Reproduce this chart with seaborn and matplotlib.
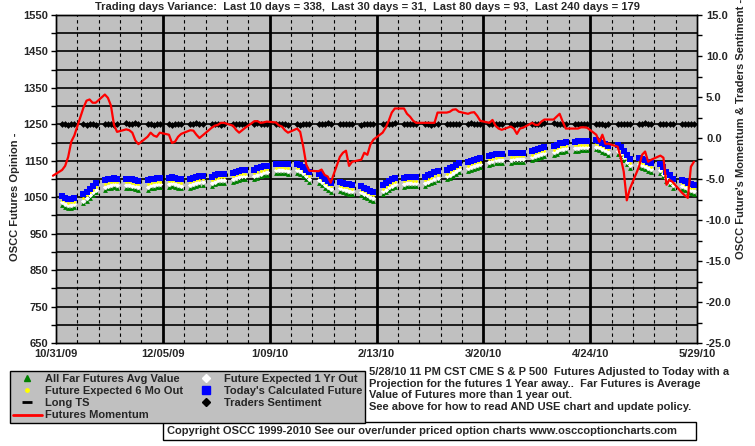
import matplotlib
matplotlib.use("Agg")
import matplotlib.pyplot as plt
from matplotlib.lines import Line2D
from matplotlib.patches import Rectangle
import seaborn as sns
import pandas as pd
import numpy as np

# one row per trading week (Mon..Fri), first value is Fri 10/30/09, last is 5/28/10
today_future = [
    1056,
    1053, 1049, 1045, 1046, 1048,
    1058, 1065, 1073, 1081, 1088,
    1096, 1099, 1101, 1102, 1101,
    1101, 1101, 1099, 1097, 1095,
    1096, 1100, 1101, 1102, 1102,
    1104, 1105, 1104, 1101, 1099,
    1101, 1104, 1106, 1108, 1109,
    1106, 1110, 1113, 1115, 1115,
    1117, 1120, 1123, 1125, 1125,
    1126, 1129, 1132, 1135, 1137,
    1141, 1142, 1142, 1141, 1140,
    1141, 1139, 1133, 1125, 1118,
    1115, 1108, 1100, 1094, 1090,
    1091, 1089, 1087, 1085, 1083,
    1080, 1076, 1072, 1068, 1065,
    1083, 1088, 1094, 1099, 1103,
    1104, 1106, 1106, 1105, 1105,
    1106, 1110, 1114, 1118, 1121,
    1124, 1129, 1134, 1139, 1144,
    1146, 1150, 1153, 1156, 1158,
    1164, 1166, 1168, 1169, 1169,
    1170, 1171, 1172, 1172, 1172,
    1176, 1180, 1183, 1186, 1188,
    1190, 1194, 1198, 1200, 1201,
    1202, 1203, 1204, 1204, 1204,
    1206, 1204, 1200, 1196, 1191,
    1194, 1188, 1177, 1165, 1155,
    1158, 1155, 1152, 1148, 1144,
    1142, 1132, 1120, 1110, 1100,
    1098, 1094, 1090, 1086, 1084,
]

six_mo = [
    1046,
    1043, 1039, 1035, 1036, 1038,
    1048, 1055, 1063, 1071, 1078,
    1086, 1089, 1091, 1092, 1091,
    1091, 1091, 1089, 1087, 1085,
    1086, 1090, 1091, 1092, 1092,
    1094, 1095, 1094, 1091, 1089,
    1091, 1094, 1096, 1098, 1099,
    1096, 1100, 1103, 1105, 1105,
    1107, 1110, 1113, 1115, 1115,
    1116, 1119, 1122, 1125, 1127,
    1131, 1132, 1132, 1131, 1130,
    1131, 1129, 1123, 1115, 1108,
    1105, 1098, 1090, 1084, 1080,
    1081, 1079, 1077, 1075, 1073,
    1070, 1066, 1062, 1058, 1055,
    1073, 1078, 1084, 1089, 1093,
    1094, 1096, 1096, 1095, 1095,
    1096, 1100, 1104, 1108, 1111,
    1114, 1119, 1124, 1129, 1134,
    1136, 1140, 1143, 1146, 1148,
    1154, 1156, 1158, 1159, 1159,
    1160, 1161, 1162, 1162, 1162,
    1166, 1170, 1173, 1176, 1178,
    1180, 1184, 1188, 1190, 1191,
    1192, 1193, 1194, 1194, 1194,
    1196, 1194, 1190, 1186, 1181,
    1184, 1178, 1167, 1155, 1145,
    1148, 1145, 1142, 1138, 1134,
    1132, 1122, 1110, 1100, 1090,
    1088, 1084, 1080, 1076, 1074,
]

one_yr = [
    1039,
    1036, 1032, 1028, 1029, 1031,
    1041, 1048, 1056, 1064, 1071,
    1079, 1082, 1084, 1085, 1084,
    1084, 1084, 1082, 1080, 1078,
    1079, 1083, 1084, 1085, 1085,
    1087, 1088, 1087, 1084, 1082,
    1084, 1087, 1089, 1091, 1092,
    1089, 1093, 1096, 1098, 1098,
    1100, 1103, 1106, 1108, 1108,
    1109, 1112, 1115, 1118, 1120,
    1124, 1125, 1125, 1124, 1123,
    1124, 1122, 1116, 1108, 1101,
    1098, 1091, 1083, 1077, 1073,
    1074, 1072, 1070, 1068, 1066,
    1063, 1059, 1055, 1051, 1048,
    1066, 1071, 1077, 1082, 1086,
    1087, 1089, 1089, 1088, 1088,
    1089, 1093, 1097, 1101, 1104,
    1107, 1112, 1117, 1122, 1127,
    1129, 1133, 1136, 1139, 1141,
    1147, 1149, 1151, 1152, 1152,
    1153, 1154, 1155, 1155, 1155,
    1159, 1163, 1166, 1169, 1171,
    1173, 1177, 1181, 1183, 1184,
    1185, 1186, 1187, 1187, 1187,
    1189, 1187, 1183, 1179, 1174,
    1177, 1171, 1160, 1148, 1138,
    1141, 1138, 1135, 1131, 1127,
    1125, 1115, 1103, 1093, 1083,
    1081, 1077, 1073, 1069, 1067,
]

far_avg = [
    1031,
    1028, 1024, 1020, 1021, 1023,
    1033, 1040, 1048, 1056, 1063,
    1071, 1074, 1076, 1077, 1076,
    1076, 1076, 1074, 1072, 1070,
    1071, 1075, 1076, 1077, 1077,
    1079, 1080, 1079, 1076, 1074,
    1076, 1079, 1081, 1083, 1084,
    1081, 1085, 1088, 1090, 1090,
    1092, 1095, 1098, 1100, 1100,
    1101, 1104, 1107, 1110, 1112,
    1116, 1117, 1117, 1116, 1115,
    1116, 1114, 1108, 1100, 1093,
    1090, 1083, 1075, 1069, 1065,
    1066, 1064, 1062, 1060, 1058,
    1055, 1051, 1047, 1043, 1040,
    1058, 1063, 1069, 1074, 1078,
    1079, 1081, 1081, 1080, 1080,
    1081, 1085, 1089, 1093, 1096,
    1099, 1104, 1109, 1114, 1119,
    1121, 1125, 1128, 1131, 1133,
    1139, 1141, 1143, 1144, 1144,
    1145, 1146, 1147, 1147, 1147,
    1151, 1155, 1158, 1161, 1163,
    1165, 1169, 1173, 1175, 1176,
    1177, 1178, 1179, 1179, 1179,
    1181, 1179, 1175, 1171, 1166,
    1169, 1163, 1152, 1140, 1130,
    1133, 1130, 1127, 1123, 1119,
    1117, 1107, 1095, 1085, 1075,
    1073, 1069, 1065, 1061, 1059,
]

momentum = [
    -4.6,
    -3.9, -3.4, -2.3, -0.45, 0.3,
    3.7, 4.55, 4.7, 4.3, 4.3,
    5.3, 4.9, 3.95, 1.6, 0.75,
    1.05, 0.95, 0.65, -0.3, -0.75,
    0.15, 0.65, 0.3, 0.15, 0.65,
    0.4, -0.6, -0.45, 0.15, 0.5,
    0.95, 0.9, 0.4, 0.0, 0.3,
    1.25, 1.5, 1.6, 1.85, 1.85,
    1.5, 1.0, 0.65, 0.95, 1.25,
    2.05, 2.05, 1.85, 1.9, 2.0,
    1.9, 1.55, 1.4, 0.95, 0.65,
    1.15, 0.75, -1.05, -3.25, -4.0,
    -4.05, -3.85, -4.5, -4.7, -5.45,
    -2.3, -1.8, -1.55, -3.4, -2.9,
    -2.65, -1.8, -2.05, -0.8, -0.2,
    0.65, 1.25, 2.1, 3.1, 3.6,
    3.6, 2.95, 2.6, 2.1, 1.85,
    1.85, 1.85, 1.85, 1.85, 3.1,
    3.1, 3.2, 3.45, 3.5, 3.2,
    2.95, 3.1, 3.15, 2.7, 2.1,
    1.85, 2.2, 1.5, 1.15, 1.0,
    1.4, 1.15, 0.5, 1.15, 1.25,
    1.85, 1.6, 1.6, 2.0, 2.25,
    2.25, 2.6, 2.95, 2.0, 1.15,
    1.15, 1.15, 1.3, 1.3, 1.25,
    0.4, -0.45, 0.4, -0.7, -0.7,
    -1.05, -2.4, -4.1, -7.6, -6.2,
    -3.5, -2.05, -1.65, -2.9, -2.65,
    -2.15, -2.4, -5.7, -5.1, -5.35,
    -6.65, -7.0, -7.3, -3.5, -2.9,
]

sentiment = [
    1.7,
    1.7, 1.7, 1.6, 1.7, 1.7,
    1.7, 1.6, 1.7, 1.7, 1.6,
    1.7, 1.7, 1.7, 1.6, 1.7,
    1.8, 1.7, 1.7, 1.8, 1.7,
    1.7, 1.7, 1.6, 1.7, 1.7,
    1.7, 1.6, 1.7, 1.7, 1.7,
    1.7, 1.7, 1.8, 1.7, 1.7,
    1.7, 1.7, 1.7, 1.6, 1.7,
    1.7, 1.7, 1.7, 1.7, 1.7,
    1.7, 1.8, 1.7, 1.7, 1.7,
    1.7, 1.7, 1.7, 1.7, 1.6,
    1.7, 1.6, 1.7, 1.7, 1.7,
    1.7, 1.7, 1.7, 1.8, 1.7,
    1.7, 1.7, 1.7, 1.7, 1.7,
    1.6, 1.7, 1.7, 1.7, 1.7,
    1.7, 1.7, 1.7, 1.7, 1.8,
    1.7, 1.7, 1.7, 1.7, 1.7,
    1.7, 1.7, 1.6, 1.7, 1.7,
    1.7, 1.7, 1.7, 1.7, 1.7,
    1.7, 1.8, 1.7, 1.7, 1.7,
    1.7, 1.7, 1.7, 1.7, 1.7,
    1.7, 1.6, 1.7, 1.7, 1.7,
    1.7, 1.7, 1.7, 1.7, 1.8,
    1.8, 1.7, 1.7, 1.7, 1.7,
    1.7, 1.7, 1.7, 1.7, 1.7,
    1.7, 1.7, 1.7, 1.6, 1.7,
    1.7, 1.7, 1.7, 1.7, 1.7,
    1.7, 1.7, 1.8, 1.7, 1.7,
    1.7, 1.7, 1.7, 1.7, 1.7,
    1.7, 1.7, 1.7, 1.7, 1.7,
]

x_tick_dates = ["2009-10-31", "2009-12-05", "2010-01-09", "2010-02-13",
                "2010-03-20", "2010-04-24", "2010-05-29"]
x_tick_labels = ["10/31/09", "12/05/09", "1/09/10", "2/13/10",
                 "3/20/10", "4/24/10", "5/29/10"]

title = ("Trading days Variance:  Last 10 days = 338,  Last 30 days = 31,  "
         "Last 80 days = 93,  Last 240 days = 179")
note = ("5/28/10 11 PM CST CME S & P 500  Futures Adjusted to Today with a\n"
        "Projection for the futures 1 Year away..  Far Futures is Average\n"
        "Value of Futures more than 1 year out.\n"
        "See above for how to read AND USE chart and update policy.")
copyright_txt = ("Copyright OSCC 1999-2010 See our over/under priced option "
                 "charts www.osccoptioncharts.com")

days = pd.bdate_range("2009-10-30", "2010-05-28")
df = pd.DataFrame({
    "date": days,
    "today": today_future,
    "six_mo": six_mo,
    "one_yr": one_yr,
    "far": far_avg,
    "momentum": momentum,
    "sentiment": sentiment,
})

sns.set_theme(style="white")
plt.rcParams["font.family"] = ["Liberation Sans", "DejaVu Sans"]
plt.rcParams["font.weight"] = "bold"

W, H = 755, 446
fig = plt.figure(figsize=(W / 100, H / 100), dpi=100)
ax = fig.add_axes([56 / W, 1 - 343 / H, 641 / W, 328 / H])
ax.set_facecolor("#c0c0c0")

start = pd.Timestamp("2009-10-31")
end = pd.Timestamp("2010-05-29")
ax.set_xlim(start, end)
ax.set_ylim(650, 1550)

# grid: horizontal every 50, weekly dashed verticals, 5-week solid verticals
for v in np.arange(700, 1550, 50):
    ax.axhline(v, color="black", lw=1.2, zorder=1)
for d in pd.date_range(start + pd.Timedelta(days=7), end - pd.Timedelta(days=1), freq="7D"):
    if (d - start).days % 35 == 0:
        ax.axvline(d, color="black", lw=2.0, zorder=1)
    else:
        ax.axvline(d, color="black", lw=0.8, ls=(0, (3, 3)), zorder=1)

sns.scatterplot(data=df, x="date", y="far", ax=ax, marker="^", s=12,
                color="#008000", linewidth=0, zorder=3)
sns.scatterplot(data=df, x="date", y="one_yr", ax=ax, marker="D", s=7,
                color="white", linewidth=0, zorder=4)
sns.scatterplot(data=df, x="date", y="six_mo", ax=ax, marker="o", s=4,
                color="#ffff00", linewidth=0, zorder=5)
sns.scatterplot(data=df, x="date", y="today", ax=ax, marker="s", s=18,
                color="#0000ff", linewidth=0, zorder=6)

ax2 = ax.twinx()
ax2.set_ylim(-25, 15)
sns.scatterplot(data=df, x="date", y="sentiment", ax=ax2, marker="D", s=12,
                color="black", linewidth=0, zorder=3)
sns.lineplot(data=df, x="date", y="momentum", ax=ax2, color="#ff0000",
             lw=1.6, zorder=4, clip_on=False)

tick_kw = dict(labelsize=8, length=3.5, width=1, color="black", direction="out")
ax.set_yticks(np.arange(650, 1551, 100))
ax.set_yticks(np.arange(700, 1551, 100), minor=True)
ax.set_yticklabels([str(v) for v in np.arange(650, 1551, 100)], fontweight="bold")
ax.tick_params(axis="y", which="both", left=True, pad=2, **tick_kw)
ax.set_xticks(pd.to_datetime(x_tick_dates))
ax.set_xticklabels(x_tick_labels, fontweight="bold")
ax.tick_params(axis="x", labelsize=8, length=0, pad=4)

ax2.set_yticks(np.arange(-25, 15.1, 5))
ax2.set_yticks(np.arange(-22.5, 15, 5), minor=True)
ax2.set_yticklabels([f"{v:.1f}" for v in np.arange(-25, 15.1, 5)], fontweight="bold")
ax2.tick_params(axis="y", which="both", right=True, pad=3, **tick_kw)

for a in (ax, ax2):
    a.set_xlabel("")
    a.set_ylabel("")
    for sp in a.spines.values():
        sp.set_color("black")
        sp.set_linewidth(1)

fig.text(367 / W, 1 - 7 / H, title, ha="center", va="center", fontsize=8,
         fontweight="bold")
fig.text(15 / W, 1 - 197 / H, "OSCC Futures Opinion -", rotation=90,
         ha="center", va="center", fontsize=8, fontweight="bold")
fig.text(741 / W, 1 - 129 / H, "OSCC Future's Momentum & Traders Sentiment -",
         rotation=90, ha="center", va="center", fontsize=8, fontweight="bold")

handles = [
    Line2D([], [], ls="none", marker="^", color="#008000", markersize=5),
    Line2D([], [], ls="none", marker="o", color="#ffff00", markersize=2.5),
    Line2D([], [], ls="none", marker="_", color="black", markersize=7, mew=2),
    Line2D([], [], color="#ff0000", lw=2),
    Line2D([], [], ls="none", marker="D", color="white", markersize=4.5),
    Line2D([], [], ls="none", marker="s", color="#0000ff", markersize=5.5),
    Line2D([], [], ls="none", marker="D", color="black", markersize=4.5),
]
labels = ["All Far Futures Avg Value", "Future Expected 6 Mo Out", "Long TS",
          "Futures Momentum", "Future Expected 1 Yr Out",
          "Today's Calculated Future", "Traders Sentiment"]
leg = fig.legend(handles, labels, ncol=2, loc="upper left",
                 bbox_to_anchor=(10 / W, 1 - 371 / H), borderaxespad=0,
                 prop={"size": 8, "weight": "bold"}, frameon=True,
                 fancybox=False, framealpha=1, facecolor="#c0c0c0",
                 edgecolor="black", handlelength=2.6, handletextpad=0.3,
                 labelspacing=0.2, columnspacing=0.8, borderpad=0.25)
leg.get_frame().set_linewidth(1)

fig.text(369 / W, 1 - 367 / H, note, ha="left", va="top", fontsize=8,
         fontweight="bold", linespacing=1.2)
fig.patches.append(Rectangle((163 / W, 1 - 440 / H), 533 / W, 18 / H,
                             transform=fig.transFigure, facecolor="white",
                             edgecolor="black", lw=1, zorder=5))
fig.text(167 / W, 1 - 431 / H, copyright_txt, ha="left", va="center",
         fontsize=8, fontweight="bold", zorder=6)

fig.savefig("out.png", dpi=100)
